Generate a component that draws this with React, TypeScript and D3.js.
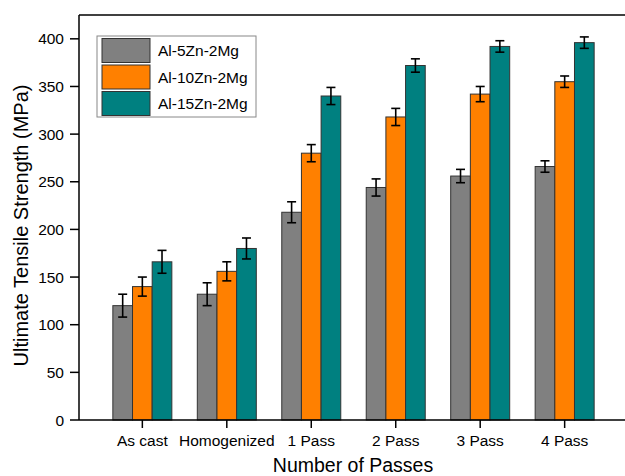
import * as React from "react";
import * as d3 from "d3";

const categories = ["As cast", "Homogenized", "1 Pass", "2 Pass", "3 Pass", "4 Pass"];
const seriesNames = ["Al-5Zn-2Mg", "Al-10Zn-2Mg", "Al-15Zn-2Mg"];
const seriesColors = ["#808080", "#FF8000", "#008080"];

// mean values (MPa)
const al5Values = [120, 132, 218, 244, 256, 266];
const al10Values = [140, 156, 280, 318, 342, 355];
const al15Values = [166, 180, 340, 372, 392, 396];

// error bar half widths
const al5Err = [12, 12, 11, 9, 7, 6];
const al10Err = [10, 10, 9, 9, 8, 6];
const al15Err = [12, 11, 9, 7, 6, 6];

const yTicks = [0, 50, 100, 150, 200, 250, 300, 350, 400];

const W = 625;
const H = 476;
const left = 79;
const right = 628;
const top = 15;
const bottom = 420;
const font = "Arial, 'Liberation Sans', sans-serif";

export default function App() {
  const values = [al5Values, al10Values, al15Values];
  const errs = [al5Err, al10Err, al15Err];

  const x = d3.scalePoint<string>().domain(categories).range([left, right]).padding(0.75);
  const inner = d3.scaleBand<string>().domain(seriesNames).range([-29.5, 29.5]);
  const y = d3.scaleLinear().domain([0, 425]).range([bottom, top]);

  return (
    <svg
      width={W}
      height={H}
      style={{ position: "absolute", left: 0, top: 0, background: "#fff" }}
      fontFamily={font}
    >
      {/* bars */}
      {categories.map((c, i) => (
        <g key={c} transform={`translate(${x(c)},0)`}>
          {seriesNames.map((s, k) => {
            const v = values[k][i];
            const e = errs[k][i];
            const bx = inner(s)!;
            const cx = bx + inner.bandwidth() / 2;
            return (
              <g key={s}>
                <rect
                  x={bx}
                  y={y(v)}
                  width={inner.bandwidth()}
                  height={y(0) - y(v)}
                  fill={seriesColors[k]}
                  stroke="#333"
                  strokeWidth={1}
                />
                <g stroke="#000" strokeWidth={1.6}>
                  <line x1={cx} x2={cx} y1={y(v + e)} y2={y(v - e)} />
                  <line x1={cx - 4.5} x2={cx + 4.5} y1={y(v + e)} y2={y(v + e)} />
                  <line x1={cx - 4.5} x2={cx + 4.5} y1={y(v - e)} y2={y(v - e)} />
                </g>
              </g>
            );
          })}
        </g>
      ))}

      {/* frame (right side falls just outside the picture) */}
      <g stroke="#000" strokeWidth={1.5} fill="none">
        <line x1={left} x2={right + 6} y1={top} y2={top} />
        <line x1={left} x2={left} y1={top} y2={bottom} />
        <line x1={left} x2={right + 6} y1={bottom} y2={bottom} />
      </g>

      {/* y axis */}
      {yTicks.map((t) => (
        <g key={t}>
          <line x1={left - 9} x2={left} y1={y(t)} y2={y(t)} stroke="#000" strokeWidth={1.5} />
          <text
            x={left - 15}
            y={y(t)}
            textAnchor="end"
            dominantBaseline="central"
            fontSize={15.5}
            fill="#000"
          >
            {t}
          </text>
        </g>
      ))}

      {/* x axis */}
      {categories.map((c) => (
        <g key={c}>
          <line x1={x(c)} x2={x(c)} y1={bottom} y2={bottom + 8} stroke="#000" strokeWidth={1.5} />
          <text x={x(c)} y={446} textAnchor="middle" fontSize={15.5} fill="#000">
            {c}
          </text>
        </g>
      ))}

      <text x={353} y={472} textAnchor="middle" fontSize={19.5} fill="#000">
        Number of Passes
      </text>
      <text
        transform={`translate(28,${(top + bottom) / 2 + 8}) rotate(-90)`}
        textAnchor="middle"
        fontSize={20}
        fill="#000"
      >
        Ultimate Tensile Strength (MPa)
      </text>

      {/* legend */}
      <g>
        <rect x={97} y={36} width={159} height={81} fill="#fff" stroke="#888" strokeWidth={1} />
        {seriesNames.map((s, k) => (
          <g key={s} transform={`translate(102,${38.5 + k * 26.5})`}>
            <rect width={48} height={24} fill={seriesColors[k]} stroke="#333" strokeWidth={1} />
            <text x={56} y={12} dominantBaseline="central" fontSize={15.5} fill="#000">
              {s}
            </text>
          </g>
        ))}
      </g>
    </svg>
  );
}
